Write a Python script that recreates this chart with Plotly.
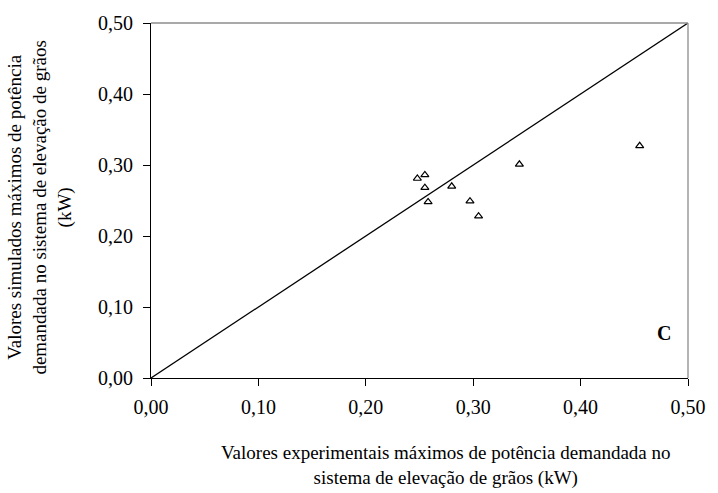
import plotly.graph_objects as go

# Maximum power demand of the grain elevation system (kW)
experimental_kw = [0.248, 0.255, 0.255, 0.258, 0.280, 0.297, 0.305, 0.343, 0.455]
simulated_kw = [0.281, 0.286, 0.268, 0.248, 0.270, 0.249, 0.228, 0.301, 0.327]

# 1:1 reference line
line_x = [0.0, 0.5]
line_y = [0.0, 0.5]

tick_vals = [0.0, 0.1, 0.2, 0.3, 0.4, 0.5]
tick_text = ["0,00", "0,10", "0,20", "0,30", "0,40", "0,50"]

panel_label = "C"
x_title = "Valores experimentais máximos de potência demandada no<br>sistema de elevação de grãos (kW)"
y_title = "Valores simulados máximos de potência<br>demandada no sistema de elevação de grãos<br>(kW)"

font_family = "Liberation Serif, Times New Roman, serif"

fig = go.Figure()

fig.add_trace(go.Scatter(
    x=line_x, y=line_y, mode="lines",
    line=dict(color="black", width=1.3),
    hoverinfo="skip", showlegend=False,
))

fig.add_trace(go.Scatter(
    x=experimental_kw, y=simulated_kw, mode="markers",
    marker=dict(symbol="triangle-up-open", size=7, color="black",
                line=dict(color="black", width=1.2)),
    showlegend=False,
))

axis_common = dict(
    range=[0, 0.5],
    tickvals=tick_vals,
    ticktext=tick_text,
    ticks="outside",
    ticklen=7,
    tickwidth=1,
    tickcolor="black",
    showline=True,
    linecolor="black",
    linewidth=1,
    showgrid=False,
    zeroline=False,
    tickfont=dict(family=font_family, size=20, color="black"),
)

fig.update_xaxes(**axis_common, ticklabelstandoff=4)
fig.update_yaxes(**axis_common, ticklabelstandoff=6)

fig.update_layout(
    width=718,
    height=493,
    margin=dict(l=151, r=19, t=19, b=115),
    plot_bgcolor="white",
    paper_bgcolor="white",
    font=dict(family=font_family, size=19, color="black"),
    shapes=[
        dict(type="line", xref="paper", yref="paper", x0=0, y0=1, x1=1, y1=1,
             line=dict(color="#8c8c8c", width=1.3)),
        dict(type="line", xref="paper", yref="paper", x0=1, y0=0, x1=1, y1=1,
             line=dict(color="#8c8c8c", width=1.3)),
    ],
    annotations=[
        dict(text=x_title, xref="paper", yref="paper", x=0.55, y=0,
             xanchor="center", yanchor="middle", yshift=-87, showarrow=False,
             font=dict(family=font_family, size=19, color="black")),
        dict(text=y_title, xref="paper", yref="paper", x=0, y=0.48,
             xanchor="center", yanchor="middle", xshift=-111, textangle=-90,
             showarrow=False,
             font=dict(family=font_family, size=19, color="black")),
        dict(text="<b>" + panel_label + "</b>", xref="x", yref="y",
             x=0.478, y=0.064, showarrow=False,
             font=dict(family=font_family, size=20, color="black")),
    ],
)

fig.write_html("out.html")
